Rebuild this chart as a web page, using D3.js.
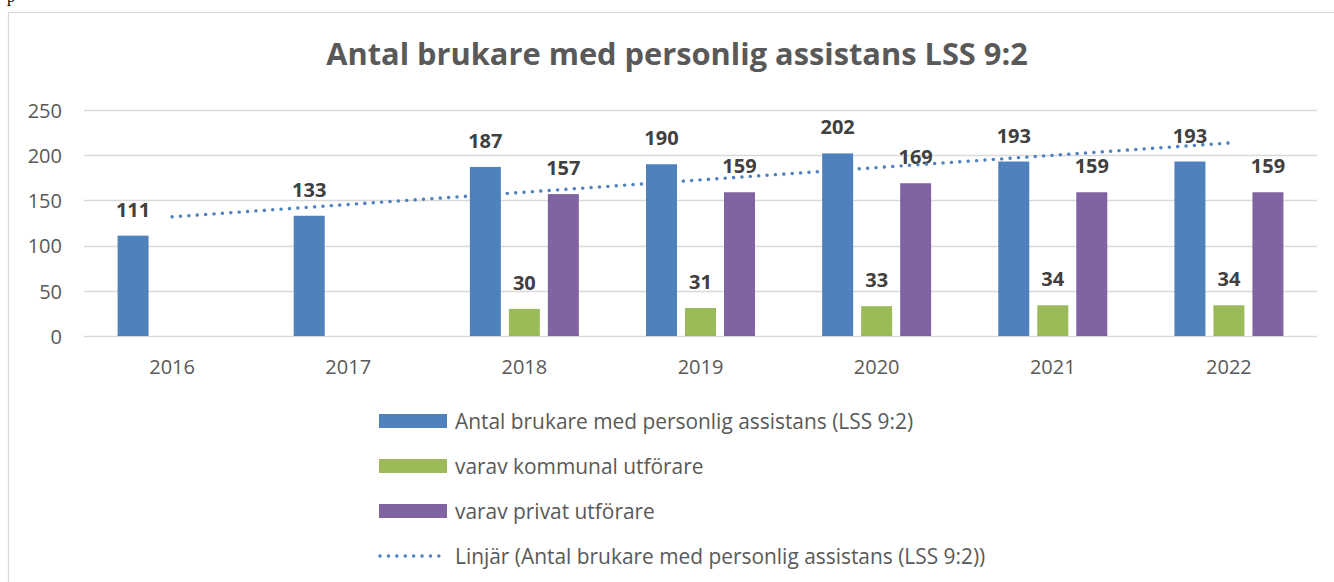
<!DOCTYPE html>
<html><head><meta charset="utf-8">
<script src="https://cdn.jsdelivr.net/npm/d3@7/dist/d3.min.js"></script>
<style>body{margin:0;background:#fff;overflow:hidden}svg{display:block}</style>
</head><body>
<svg id="c" width="1334" height="582"></svg>
<script>
const categories = ["2016","2017","2018","2019","2020","2021","2022"];
const totalUsers = [111,133,187,190,202,193,193];
const municipal = [null,null,30,31,33,34,34];
const privateProv = [null,null,157,159,169,159,159];
const yTicks = [0,50,100,150,200,250];
const seriesNames = ["Antal brukare med personlig assistans (LSS 9:2)","varav kommunal utförare","varav privat utförare"];
const trendName = "Linjär (Antal brukare med personlig assistans (LSS 9:2))";
const title = "Antal brukare med personlig assistans LSS 9:2";
const colors = ["#4f81bd","#9bbb59","#8064a2"];

const svg = d3.select("#c");
const FONT = "'Open Sans', sans-serif";
const plot = {l:84, r:1317, t:110, b:336};

svg.append("text").attr("x",7).attr("y",2).attr("font-family","'Liberation Serif', serif")
  .attr("font-size",16).attr("fill","#000").text("p");
svg.append("rect").attr("x",8.5).attr("y",12.5).attr("width",1340).attr("height",600)
  .attr("fill","none").attr("stroke","#d9d9d9").attr("stroke-width",1.2);

svg.append("text").attr("x",677).attr("y",65).attr("text-anchor","middle")
  .attr("font-family",FONT).attr("font-weight","bold").attr("font-size",30.8).attr("fill","#595959").text(title);

const y = d3.scaleLinear().domain([0,250]).range([plot.b,plot.t]);
const x0 = d3.scaleBand().domain(categories).range([plot.l,plot.r]).paddingInner(0).paddingOuter(0);
const barW = 31, step = 39;

// gridlines
svg.append("g").selectAll("line").data(yTicks).join("line")
  .attr("x1",plot.l).attr("x2",plot.r).attr("y1",d=>Math.round(y(d))+0.5).attr("y2",d=>Math.round(y(d))+0.5)
  .attr("stroke","#d9d9d9").attr("stroke-width",1.3);

// y axis labels
const yAxis = d3.axisLeft(y).tickValues(yTicks).tickSize(0).tickPadding(0);
const ya = svg.append("g").attr("transform",`translate(62,0)`).call(yAxis);
ya.select(".domain").remove();
ya.selectAll("text").attr("font-family",FONT).attr("font-size",20).attr("fill","#595959").attr("dy","0.36em");

// x axis labels
const xAxis = d3.axisBottom(x0).tickSize(0).tickPadding(0);
const xa = svg.append("g").attr("transform",`translate(0,355)`).call(xAxis);
xa.select(".domain").remove();
xa.selectAll("text").attr("font-family",FONT).attr("font-size",20).attr("fill","#595959").attr("dy","0.95em");

const all = [totalUsers, municipal, privateProv];
all.forEach((vals,si)=>{
  const data = categories.map((c,i)=>({c, v:vals[i]})).filter(d=>d.v!=null);
  const g = svg.append("g");
  const cx = d=> x0(d.c)+x0.bandwidth()/2 + (si-1)*step;
  g.selectAll("rect").data(data).join("rect")
    .attr("x",d=>cx(d)-barW/2).attr("width",barW)
    .attr("y",d=>y(d.v)).attr("height",d=>y(0)-y(d.v)).attr("fill",colors[si]);
  g.selectAll("text").data(data).join("text")
    .attr("x",cx).attr("y",d=>y(d.v)-19).attr("text-anchor","middle")
    .attr("font-family",FONT).attr("font-weight","bold").attr("font-size",20).attr("fill","#404040")
    .text(d=>d.v);
});

// linear trend (least squares over blue series)
const xs = totalUsers.map((_,i)=>i+1);
const mx = d3.mean(xs), my = d3.mean(totalUsers);
const slope = d3.sum(xs.map((xv,i)=>(xv-mx)*(totalUsers[i]-my)))/d3.sum(xs.map(xv=>(xv-mx)**2));
const icpt = my - slope*mx;
const trendPts = [0, categories.length-1].map(i=>({c:categories[i], v:icpt+slope*(i+1)}));
svg.append("path").datum(trendPts)
  .attr("d", d3.line().x(d=>x0(d.c)+x0.bandwidth()/2).y(d=>y(d.v)))
  .attr("fill","none").attr("stroke","#4f81bd").attr("stroke-width",3.4)
  .attr("stroke-linecap","round").attr("stroke-dasharray","0.1 8.3");

// legend
const lg = svg.append("g");
const rows = [421,466,511,556];
seriesNames.forEach((n,i)=>{
  lg.append("rect").attr("x",379).attr("y",rows[i]-7).attr("width",68).attr("height",14).attr("fill",colors[i]);
  lg.append("text").attr("x",455).attr("y",rows[i]).attr("dy","0.36em").attr("font-family",FONT)
    .attr("font-size",20.9).attr("fill","#595959").text(n);
});
lg.append("line").attr("x1",380).attr("x2",447).attr("y1",rows[3]).attr("y2",rows[3])
  .attr("stroke","#4f81bd").attr("stroke-width",3.4).attr("stroke-linecap","round").attr("stroke-dasharray","0.1 8.3");
lg.append("text").attr("x",455).attr("y",rows[3]).attr("dy","0.36em").attr("font-family",FONT)
  .attr("font-size",20.9).attr("fill","#595959").text(trendName);
</script>
</body></html>
